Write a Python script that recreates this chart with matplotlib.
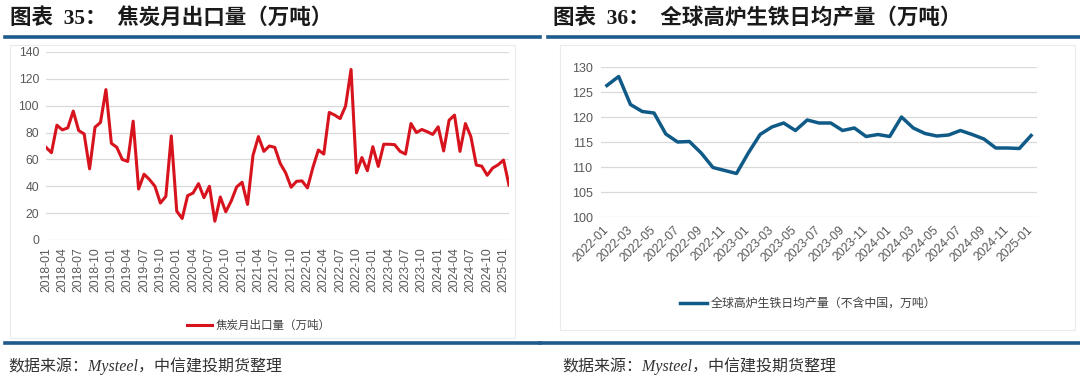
import matplotlib
matplotlib.use("Agg")
import matplotlib.pyplot as plt
from matplotlib.lines import Line2D
from matplotlib.patches import Rectangle

plt.rcParams['font.family'] = ['Liberation Sans', 'Noto Sans CJK SC']

# ---- data: left chart (coke monthly exports, 2018-01 .. 2025-02) ----
coke_months = [f"{y}-{m:02d}" for y in range(2018, 2026) for m in range(1, 13)][:86]
coke_export = [69, 65, 85.5, 82, 83.5, 96, 81.5, 79, 53, 84,
               87.5, 112, 72, 69, 60, 58.5, 88.5, 38, 49, 45,
               40, 27.5, 32.5, 77.5, 21.5, 16, 33, 35, 42, 31.5,
               40, 14, 32, 21, 29, 39.5, 43, 26.5, 63, 77,
               66, 70, 69, 57, 50, 39.3, 43.7, 44, 38.8, 54,
               67, 64, 95, 93, 90.4, 99.8, 127, 50, 61.4, 51.6,
               69.5, 54.8, 71.3, 71.3, 71, 66, 64, 86.7, 80, 82.3,
               80.6, 78.6, 84.3, 66.3, 89.2, 93, 66, 86.7, 77, 55.8,
               55, 48.2, 53.6, 56, 59.5, 40.8]

# ---- data: right chart (global BF pig iron daily output ex-China, 2022-01 .. 2025-01) ----
iron_months = [f"{y}-{m:02d}" for y in range(2022, 2026) for m in range(1, 13)][:37]
iron_output = [126.3, 128.1, 122.5, 121.1, 120.8, 116.6, 115.0, 115.1, 112.8, 109.9,
               109.3, 108.7, 112.8, 116.5, 118.0, 118.8, 117.3, 119.4, 118.8, 118.8,
               117.3, 117.8, 116.1, 116.5, 116.1, 120.0, 117.8, 116.7, 116.2, 116.4,
               117.3, 116.5, 115.6, 113.8, 113.8, 113.7, 116.3]

W, H = 1080, 383
fig = plt.figure(figsize=(W / 100, H / 100), dpi=100)


def px_axes(x0, y0, x1, y1):
    return fig.add_axes([x0 / W, 1 - y1 / H, (x1 - x0) / W, (y1 - y0) / H])


blue = '#1F5A8C'
grey_txt = '#595959'
grid_c = '#D9D9D9'

# chart frames
for (x0, y0, x1, y1) in [(10, 45, 515, 338), (560, 45, 1075, 330)]:
    fig.add_artist(Rectangle((x0 / W, 1 - y1 / H), (x1 - x0) / W, (y1 - y0) / H,
                             transform=fig.transFigure, fill=False,
                             edgecolor='#EBEBEB', linewidth=0.8))

# title / source lines
for (x0, x1, y) in [(5, 540, 37), (548, 1080, 37), (5, 540, 343), (540, 1080, 343)]:
    fig.add_artist(Line2D([x0 / W, x1 / W], [1 - y / H, 1 - y / H],
                          transform=fig.transFigure, color=blue, linewidth=2.6))

title_font = ['Liberation Serif', 'Noto Sans CJK SC']
fig.text(10 / W, 1 - 18 / H, '图表  35：  焦炭月出口量（万吨）', fontsize=15.5,
         fontweight='bold', family=title_font, va='center', ha='left', color='#1a1a1a')
fig.text(553 / W, 1 - 18 / H, '图表  36：  全球高炉生铁日均产量（万吨）', fontsize=15.5,
         fontweight='bold', family=title_font, va='center', ha='left', color='#1a1a1a')
for x in (8, 562):
    fig.text(x / W, 1 - 366 / H, '数据来源：Mysteel，中信建投期货整理', fontsize=11.5,
             style='italic', family=title_font, va='center', ha='left', color='#333333')

# ---- left chart ----
ax1 = px_axes(46, 52, 509, 240)
x1 = list(range(len(coke_export)))
ax1.plot(x1, coke_export, color='#D7141E', linewidth=2.2, label='焦炭月出口量（万吨）')
ax1.set_xlim(0, len(coke_export) - 1)
ax1.set_ylim(0, 140)
ax1.set_yticks(range(0, 141, 20))
ax1.set_xticks(x1[::3])
ax1.set_xticklabels(coke_months[::3], rotation=90)
ax1.grid(axis='y', color=grid_c, linewidth=0.9)
ax1.set_axisbelow(True)
for s in ax1.spines.values():
    s.set_visible(False)
ax1.tick_params(length=0, labelsize=8.8, labelcolor=grey_txt, pad=5)
ax1.legend(loc='center', bbox_to_anchor=(0.46, -0.455), frameon=False, fontsize=8.3,
           handlelength=2.2, handletextpad=0.3, labelcolor='#404040')

# ---- right chart ----
ax2 = px_axes(601, 67, 1037, 217)
x2 = list(range(len(iron_output)))
ax2.plot(x2, iron_output, color='#0F5A87', linewidth=2.5,
         label='全球高炉生铁日均产量（不含中国，万吨）')
ax2.set_xlim(-0.5, len(iron_output) - 0.5)
ax2.set_ylim(100, 130)
ax2.set_yticks(range(100, 131, 5))
ax2.set_xticks(x2[::2])
ax2.set_xticklabels(iron_months[::2], rotation=45, ha='right', va='center',
                    rotation_mode='anchor')
ax2.grid(axis='y', color=grid_c, linewidth=0.9)
ax2.set_axisbelow(True)
for s in ax2.spines.values():
    s.set_visible(False)
ax2.tick_params(axis='y', length=0, labelsize=9, labelcolor=grey_txt, pad=6)
ax2.tick_params(axis='x', length=0, labelsize=8.8, labelcolor=grey_txt, pad=8)
ax2.legend(loc='center', bbox_to_anchor=(0.475, -0.58), frameon=False, fontsize=8.6,
           handlelength=2.3, handletextpad=0.3, labelcolor='#404040')

fig.savefig('out.png', dpi=100)
